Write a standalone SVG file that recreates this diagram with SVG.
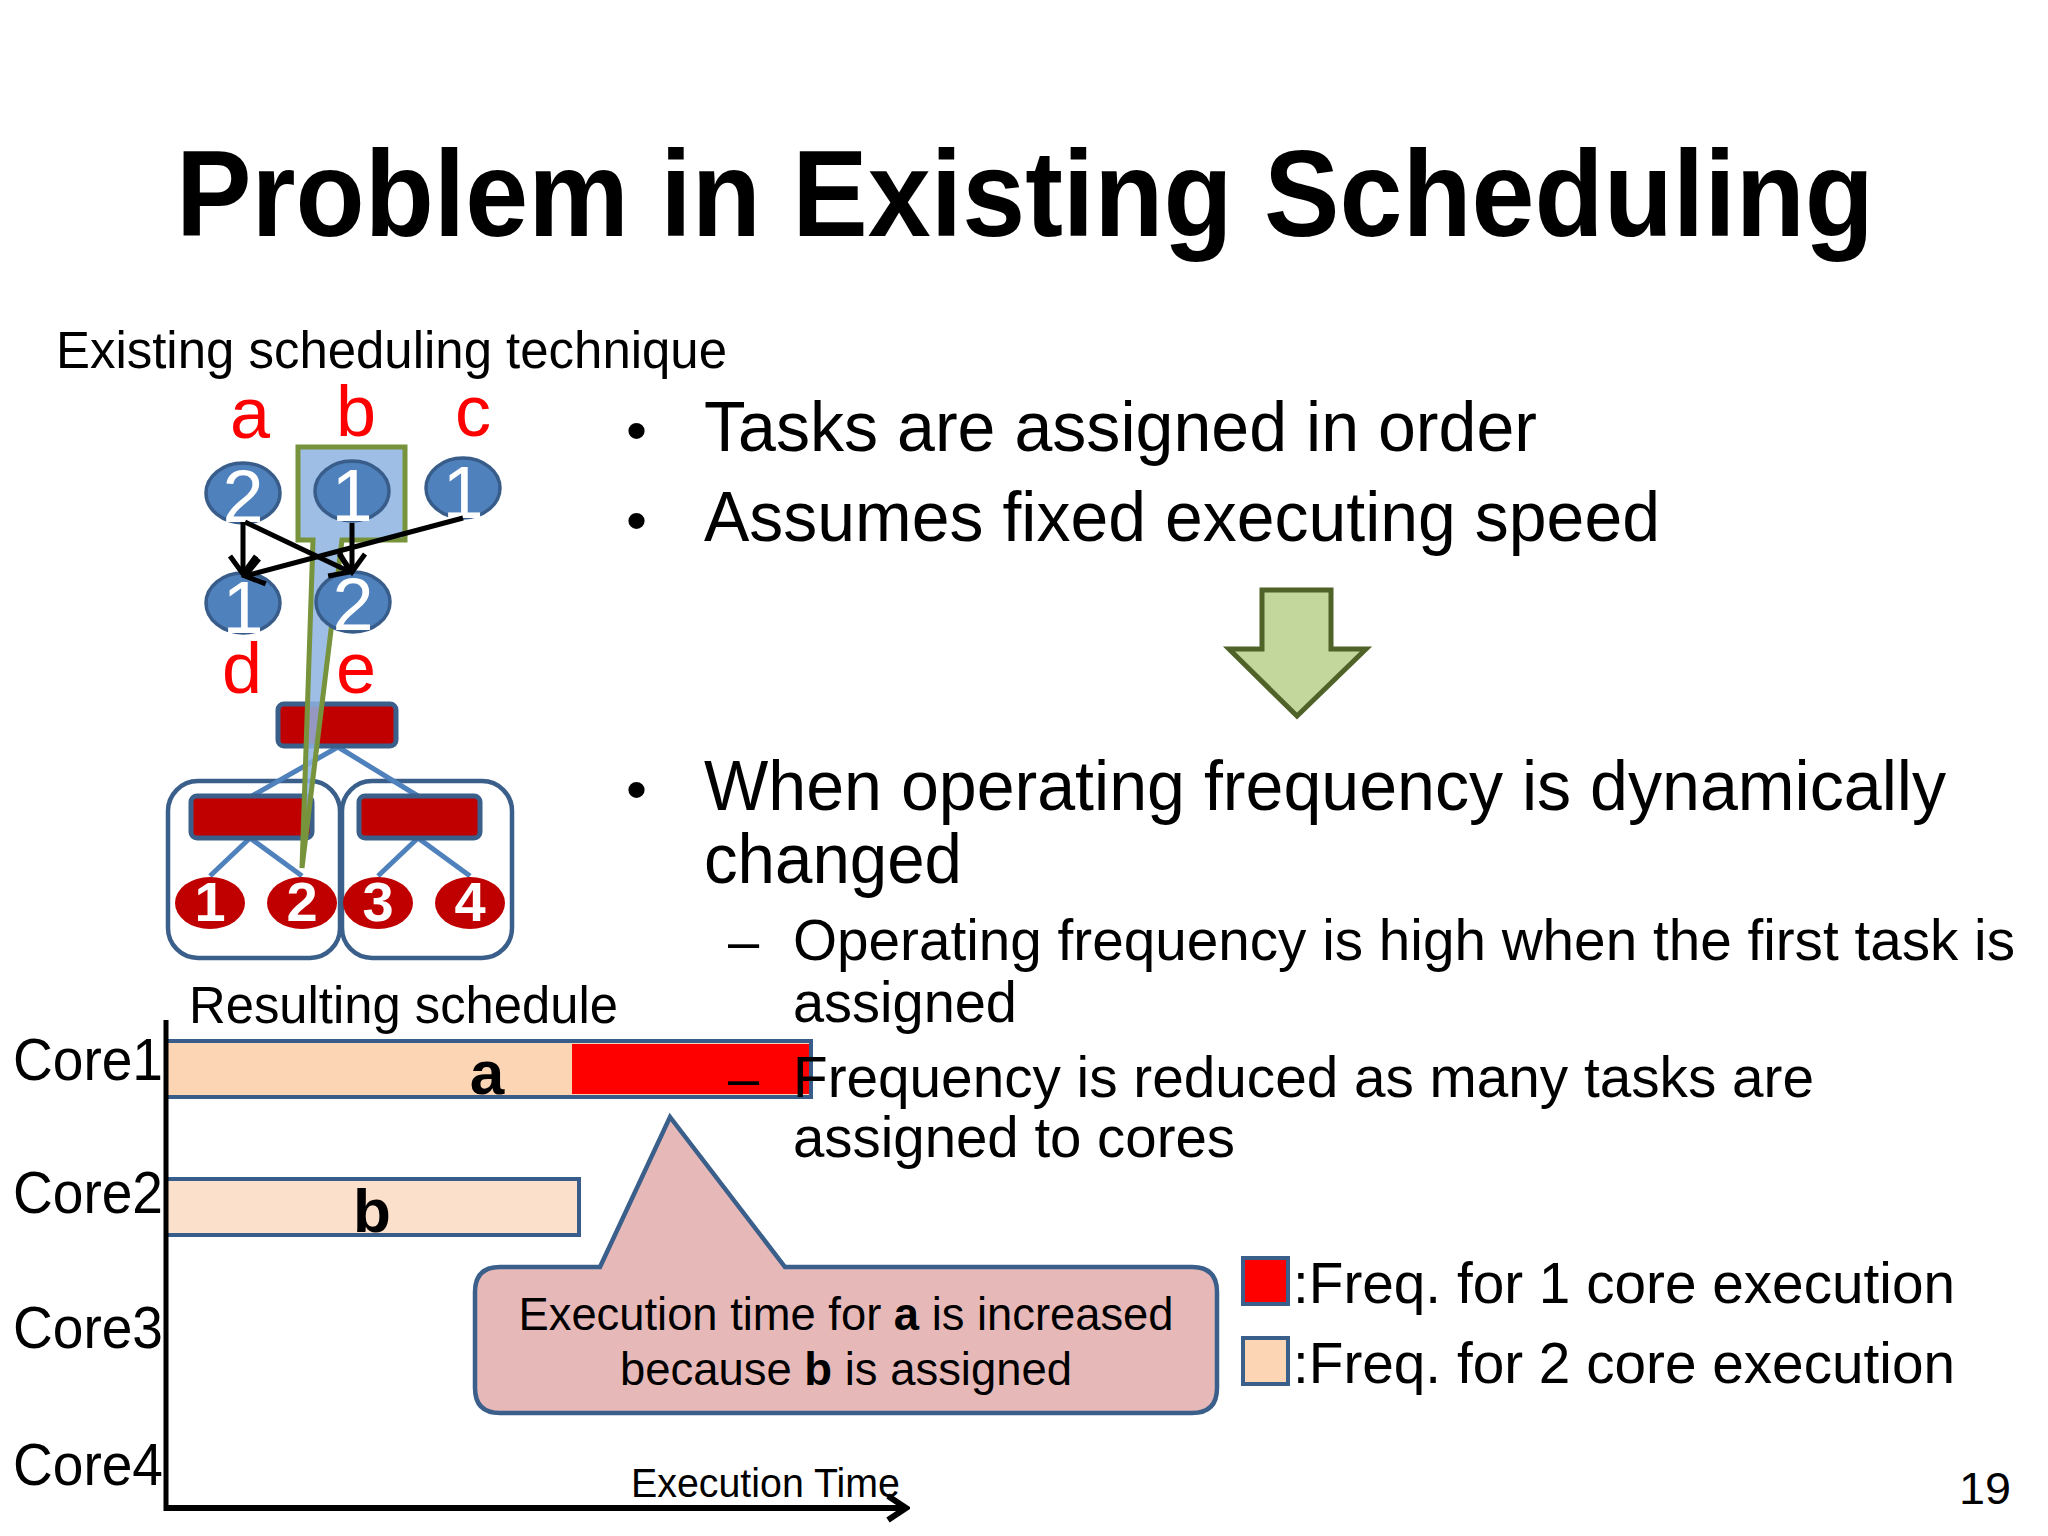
<svg xmlns="http://www.w3.org/2000/svg" width="2048" height="1536" viewBox="0 0 2048 1536">
<defs>
<style>
text{font-family:"Liberation Sans",Arial,sans-serif;fill:#000}
.red{fill:#FF0000}
.wd{fill:#fff;text-anchor:middle}
.bnode{fill:#4F81BD;stroke:#385D8A;stroke-width:3.5}
.rnode{fill:#C00000}
.rbar{fill:#C00000;stroke:#3A5F8A;stroke-width:5}
.box{fill:none;stroke:#3A5F8A;stroke-width:4.5}
.tl{stroke:#4F81BD;stroke-width:5;fill:none}
.arr{stroke:#000;stroke-width:5;fill:none;marker-end:url(#ah)}
.bar{stroke:#385D8A;stroke-width:4}
</style>
<marker id="ah" markerUnits="userSpaceOnUse" viewBox="0 0 32 32" markerWidth="32" markerHeight="32" refX="26" refY="16" orient="auto">
<path d="M8,3 L26,16 L8,29" fill="none" stroke="#000" stroke-width="5"/>
</marker>
<marker id="ah2" markerUnits="userSpaceOnUse" viewBox="0 0 30 30" markerWidth="30" markerHeight="30" refX="26" refY="15" orient="auto">
<path d="M8,3 L26,15 L8,27" fill="none" stroke="#000" stroke-width="6"/>
</marker>
</defs>
<rect width="2048" height="1536" fill="#fff"/>

<text id="title" x="176" y="236" font-size="122" font-weight="bold" textLength="1698" lengthAdjust="spacingAndGlyphs">Problem in Existing Scheduling</text>

<text x="56" y="368" font-size="51" textLength="671" lengthAdjust="spacingAndGlyphs">Existing scheduling technique</text>

<!-- tree (processor hierarchy) -->
<g id="tree">
<rect class="box" x="168" y="781" width="172" height="177" rx="30"/>
<rect class="box" x="342" y="781" width="170" height="177" rx="30"/>
<line class="tl" x1="338" y1="747" x2="252" y2="796"/>
<line class="tl" x1="338" y1="747" x2="418" y2="796"/>
<line class="tl" x1="250" y1="838" x2="210" y2="876"/>
<line class="tl" x1="250" y1="838" x2="302" y2="876"/>
<line class="tl" x1="418" y1="838" x2="378" y2="876"/>
<line class="tl" x1="418" y1="838" x2="470" y2="876"/>
<rect class="rbar" x="278" y="704" width="118" height="42" rx="6"/>
<rect class="rbar" x="191" y="796" width="121" height="42" rx="6"/>
<rect class="rbar" x="359" y="796" width="121" height="42" rx="6"/>
<g id="core1"><ellipse class="rnode" cx="210" cy="903" rx="35" ry="26"/><text class="wd" x="210" y="921" font-size="56" font-weight="bold">1</text></g>
<g id="core2"><ellipse class="rnode" cx="302" cy="903" rx="35" ry="26"/><text class="wd" x="302" y="921" font-size="56" font-weight="bold">2</text></g>
<g id="core3"><ellipse class="rnode" cx="378" cy="903" rx="35" ry="26"/><text class="wd" x="378" y="921" font-size="56" font-weight="bold">3</text></g>
<g id="core4"><ellipse class="rnode" cx="470" cy="903" rx="35" ry="26"/><text class="wd" x="470" y="921" font-size="56" font-weight="bold">4</text></g>
</g>

<!-- highlight callout for task b -->
<path id="highlight" d="M298,447 L405,447 L405,540 L342,540 L302,868 L313,540 L298,540 Z" fill="#8DB3E2" fill-opacity="0.85" stroke="#77933C" stroke-width="5" stroke-linejoin="miter"/>

<!-- task graph nodes -->
<g id="task-a"><ellipse class="bnode" cx="243" cy="493" rx="37" ry="30"/><text class="wd" x="243" y="522" font-size="74">2</text><text class="red" x="250" y="438" font-size="72" text-anchor="middle">a</text></g>
<g id="task-b"><ellipse class="bnode" cx="352" cy="491" rx="37" ry="30"/><text class="wd" x="352" y="521" font-size="74">1</text><text class="red" x="356" y="436" font-size="72" text-anchor="middle">b</text></g>
<g id="task-c"><ellipse class="bnode" cx="463" cy="488" rx="37" ry="30"/><text class="wd" x="463" y="518" font-size="74">1</text><text class="red" x="473" y="436" font-size="72" text-anchor="middle">c</text></g>
<g id="task-d"><ellipse class="bnode" cx="243" cy="603" rx="37" ry="30"/><text class="wd" x="243" y="633" font-size="74">1</text><text class="red" x="242" y="693" font-size="72" text-anchor="middle">d</text></g>
<g id="task-e"><ellipse class="bnode" cx="353" cy="602" rx="37" ry="30"/><text class="wd" x="353" y="630" font-size="74">2</text><text class="red" x="356" y="693" font-size="72" text-anchor="middle">e</text></g>

<g id="connectors">
<line class="arr" x1="243" y1="522" x2="243" y2="574"/>
<line class="arr" x1="245" y1="522" x2="350" y2="572"/>
<line class="arr" x1="352" y1="523" x2="352" y2="572"/>
<line class="arr" x1="463" y1="518" x2="245" y2="576"/>
</g>

<!-- bullets -->
<g id="bullets">
<text x="626" y="451" font-size="60">•</text>
<text x="704" y="451" font-size="71" textLength="833" lengthAdjust="spacingAndGlyphs">Tasks are assigned in order</text>
<text x="626" y="541" font-size="60">•</text>
<text x="704" y="541" font-size="71" textLength="956" lengthAdjust="spacingAndGlyphs">Assumes fixed executing speed</text>
<text x="626" y="810" font-size="60">•</text>
<text x="704" y="810" font-size="71" textLength="1242" lengthAdjust="spacingAndGlyphs">When operating frequency is dynamically</text>
<text x="704" y="883" font-size="71" textLength="258" lengthAdjust="spacingAndGlyphs">changed</text>
<text x="728" y="960" font-size="56">–</text>
<text x="793" y="960" font-size="57" textLength="1222" lengthAdjust="spacingAndGlyphs">Operating frequency is high when the first task is</text>
<text x="793" y="1022" font-size="57" textLength="224" lengthAdjust="spacingAndGlyphs">assigned</text>
</g>

<!-- green arrow -->
<path id="down-arrow" d="M1262,590 L1331,590 L1331,649 L1366,649 L1297,716 L1229,649 L1262,649 Z" fill="#C3D69B" stroke="#4F6228" stroke-width="5"/>

<!-- schedule chart -->
<g id="schedule">
<text x="189" y="1023" font-size="51" textLength="429" lengthAdjust="spacingAndGlyphs">Resulting schedule</text>
<g id="bar-a">
<rect x="166" y="1041" width="645" height="56" fill="#FCD5B4" class="bar"/>
<rect x="572" y="1044" width="237" height="50" fill="#FF0000"/>
<rect x="166" y="1041" width="645" height="56" fill="none" class="bar"/>
<text x="487" y="1094" font-size="62" font-weight="bold" text-anchor="middle">a</text>
</g>
<g id="bar-b">
<rect x="166" y="1179" width="413" height="56" fill="#FBE0CC" class="bar"/>
<text x="372" y="1232" font-size="62" font-weight="bold" text-anchor="middle">b</text>
</g>
<text x="13" y="1080" font-size="60" textLength="150" lengthAdjust="spacingAndGlyphs">Core1</text>
<text x="13" y="1213" font-size="60" textLength="150" lengthAdjust="spacingAndGlyphs">Core2</text>
<text x="13" y="1348" font-size="60" textLength="150" lengthAdjust="spacingAndGlyphs">Core3</text>
<text x="13" y="1485" font-size="60" textLength="150" lengthAdjust="spacingAndGlyphs">Core4</text>
<line x1="166" y1="1020" x2="166" y2="1511" stroke="#000" stroke-width="5"/>
<line x1="164" y1="1508" x2="906" y2="1508" stroke="#000" stroke-width="6" marker-end="url(#ah2)"/>
<text x="631" y="1497" font-size="40" textLength="269" lengthAdjust="spacingAndGlyphs">Execution Time</text>
</g>

<g id="bullets2">
<text x="728" y="1097" font-size="56">–</text>
<text x="793" y="1097" font-size="57" textLength="1021" lengthAdjust="spacingAndGlyphs">Frequency is reduced as many tasks are</text>
<text x="793" y="1157" font-size="57" textLength="442" lengthAdjust="spacingAndGlyphs">assigned to cores</text>
</g>

<!-- callout -->
<g id="callout">
<path d="M500,1267 L600,1267 L670,1117 L785,1267 L1192,1267 Q1217,1267 1217,1292 L1217,1388 Q1217,1413 1192,1413 L500,1413 Q475,1413 475,1388 L475,1292 Q475,1267 500,1267 Z" fill="#E6B9B8" stroke="#3A5F8A" stroke-width="4.5"/>
<text x="846" y="1330" font-size="46" text-anchor="middle" textLength="655" lengthAdjust="spacingAndGlyphs">Execution time for <tspan font-weight="bold">a</tspan> is increased</text>
<text x="846" y="1385" font-size="46" text-anchor="middle" textLength="452" lengthAdjust="spacingAndGlyphs">because <tspan font-weight="bold">b</tspan> is assigned</text>
</g>

<!-- legend -->
<g id="legend">
<rect x="1243" y="1258" width="45" height="46" fill="#FF0000" stroke="#3A5F8A" stroke-width="4"/>
<text x="1293" y="1303" font-size="58" textLength="662" lengthAdjust="spacingAndGlyphs">:Freq. for 1 core execution</text>
<rect x="1243" y="1338" width="45" height="46" fill="#FCD5B4" stroke="#3A5F8A" stroke-width="4"/>
<text x="1293" y="1383" font-size="58" textLength="662" lengthAdjust="spacingAndGlyphs">:Freq. for 2 core execution</text>
</g>

<text x="1959" y="1504" font-size="44" textLength="52" lengthAdjust="spacingAndGlyphs">19</text>
</svg>
